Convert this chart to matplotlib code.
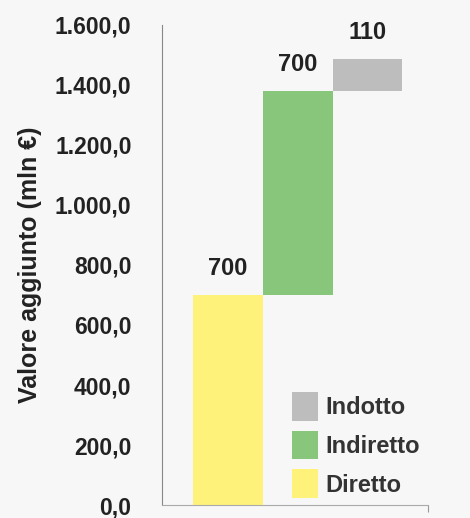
import matplotlib
matplotlib.use("Agg")
import matplotlib.pyplot as plt
from matplotlib.ticker import FuncFormatter

# data
categories = ["Diretto", "Indiretto", "Indotto"]
values = [700, 680, 105]
value_labels = ["700", "700", "110"]
colors = ["#fff27a", "#88c77b", "#bdbdbd"]

plt.rcParams['font.family'] = ['Liberation Sans', 'DejaVu Sans']
bg = "#f7f7f7"
txt = "#222222"

fig = plt.figure(figsize=(4.7, 5.18), dpi=100, facecolor=bg)
ax = fig.add_axes([0.345, 0.025, 0.566, 0.927], facecolor=bg)

bottoms = [0, values[0], values[0] + values[1]]
bars = []
for i in range(len(categories)):
    b = ax.bar(i, values[i], width=1.0, bottom=bottoms[i], color=colors[i],
               label=categories[i], linewidth=0)
    bars.append(b)
    ax.text(i, bottoms[i] + values[i] + 50, value_labels[i], ha="center", va="bottom",
            fontsize=17, fontweight="bold", color=txt)

ax.set_ylim(0, 1600)
ax.set_xlim(-0.94, 2.87)
ax.set_yticks(range(0, 1601, 200))
ax.yaxis.set_major_formatter(FuncFormatter(lambda v, p: f"{v:,.1f}".replace(",", "X").replace(".", ",").replace("X", ".")))
ax.tick_params(axis="y", length=0, pad=22, labelsize=16.5)
for lab in ax.get_yticklabels():
    lab.set_fontweight("bold")
    lab.set_color(txt)
ax.set_xticks([2.87])
ax.set_xticklabels([""])
ax.tick_params(axis="x", length=5, color="#999999")

ax.set_ylabel("Valore aggiunto (mln €)", fontsize=18, fontweight="bold", color=txt)
ax.yaxis.set_label_coords(-0.45, 0.5)

for s in ["top", "right"]:
    ax.spines[s].set_visible(False)
ax.spines["left"].set_color("#888888")
ax.spines["bottom"].set_color("#aaaaaa")

handles = [bars[2], bars[1], bars[0]]
labels = [categories[2], categories[1], categories[0]]
leg = ax.legend(handles, labels, loc="lower left", bbox_to_anchor=(0.41, -0.03),
                frameon=False, fontsize=17, handlelength=1.1, handleheight=1.5,
                handletextpad=0.3, labelspacing=0.42)
for t in leg.get_texts():
    t.set_fontweight("bold")
    t.set_color("#333333")

fig.savefig("out.png", dpi=100, facecolor=bg)
